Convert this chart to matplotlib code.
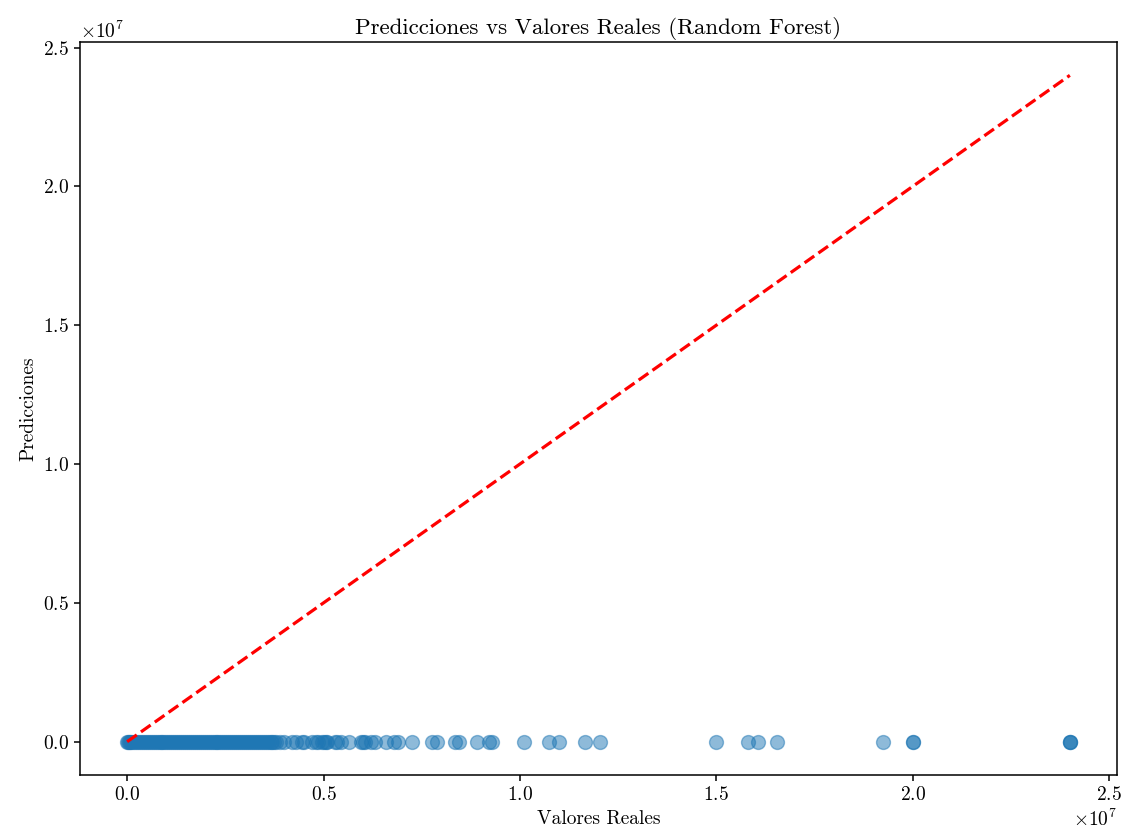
import matplotlib
matplotlib.use("Agg")
import matplotlib.pyplot as plt

plt.rcParams['font.family'] = ['cmr10', 'DejaVu Sans']
plt.rcParams['mathtext.fontset'] = 'cm'
plt.rcParams['axes.formatter.use_mathtext'] = True
plt.rcParams['axes.unicode_minus'] = False

title = "Predicciones vs Valores Reales (Random Forest)"
xlabel = "Valores Reales"
ylabel = "Predicciones"

# real values, in millions
real_millions = [
    0.0, 0.02, 0.05, 0.08, 0.1, 0.15, 0.2, 0.25, 0.3, 0.35,
    0.4, 0.45, 0.5, 0.55, 0.6, 0.65, 0.7, 0.75, 0.8, 0.85,
    0.9, 0.95, 1.0, 1.05, 1.1, 1.15, 1.2, 1.25, 1.3, 1.35,
    1.4, 1.45, 1.5, 1.55, 1.6, 1.65, 1.7, 1.75, 1.8, 1.85,
    1.9, 1.95, 2.0, 2.05, 2.1, 2.15, 2.2, 2.25, 2.3, 2.35,
    2.4, 2.45, 2.5, 2.55, 2.6, 2.65, 2.7, 2.75, 2.8, 2.85,
    2.9, 2.95, 3.0, 3.05, 3.1, 3.15, 3.2, 3.25, 3.3, 3.35,
    3.4, 3.45, 3.5, 3.55, 3.6, 3.65, 3.7, 3.75, 3.8, 3.9,
    4.0, 4.2, 4.3, 4.45, 4.5, 4.7, 4.8, 4.85, 4.95, 5.0,
    5.05, 5.1, 5.3, 5.35, 5.45, 5.65, 5.95, 6.0, 6.05, 6.2,
    6.3, 6.6, 6.8, 6.9, 7.25, 7.75, 7.9, 8.35, 8.45, 8.9,
    9.2, 9.3, 10.1, 10.75, 11.0, 11.65, 12.05, 15.0, 15.8, 16.05,
    16.55, 19.25, 20.0, 20.0, 24.0, 24.0, 24.0,
]

# model predictions (tiny compared with the real values)
y_pred = [
    9.9, 10.3, 10.9, 11.2, 11.5, 11.9, 12.2, 12.4, 12.6, 12.7,
    12.9, 13.0, 13.1, 13.2, 13.3, 13.3, 13.4, 13.5, 13.6, 13.6,
    13.7, 13.7, 13.8, 13.8, 13.9, 13.9, 14.0, 14.0, 14.1, 14.1,
    14.1, 14.2, 14.2, 14.2, 14.3, 14.3, 14.3, 14.4, 14.4, 14.4,
    14.4, 14.5, 14.5, 14.5, 14.5, 14.6, 14.6, 14.6, 14.6, 14.7,
    14.7, 14.7, 14.7, 14.7, 14.8, 14.8, 14.8, 14.8, 14.8, 14.9,
    14.9, 14.9, 14.9, 14.9, 15.0, 15.0, 15.0, 15.0, 15.0, 15.0,
    15.1, 15.1, 15.1, 15.1, 15.1, 15.1, 15.2, 15.2, 15.2, 15.2,
    15.2, 15.3, 15.3, 15.3, 15.3, 15.4, 15.4, 15.4, 15.4, 15.4,
    15.4, 15.5, 15.5, 15.5, 15.5, 15.5, 15.6, 15.6, 15.6, 15.6,
    15.7, 15.7, 15.7, 15.7, 15.8, 15.8, 15.9, 15.9, 15.9, 16.0,
    16.0, 16.0, 16.1, 16.2, 16.2, 16.3, 16.3, 16.5, 16.6, 16.6,
    16.6, 16.8, 16.8, 16.8, 17.0, 17.0, 17.0,
]

y_real = [v * 1e6 for v in real_millions]

fig = plt.figure(figsize=(11.25, 8.3), dpi=100)
ax = fig.add_axes([80/1125, 1 - 775/830, (1117-80)/1125, (775-42)/830])

ax.scatter(y_real, y_pred, s=100, alpha=0.5, color='#1f77b4')
lo, hi = min(y_real), max(y_real)
ax.plot([lo, hi], [lo, hi], 'r--', lw=2.3)

ax.set_title(title, fontsize=16.5)
ax.set_xlabel(xlabel, fontsize=14)
ax.set_ylabel(ylabel, fontsize=14)
ax.tick_params(labelsize=14, width=1.1, length=4.5)
ax.xaxis.get_offset_text().set_fontsize(14)
ax.yaxis.get_offset_text().set_fontsize(14)
for s in ax.spines.values():
    s.set_linewidth(1.1)

fig.savefig("out.png", dpi=100)
